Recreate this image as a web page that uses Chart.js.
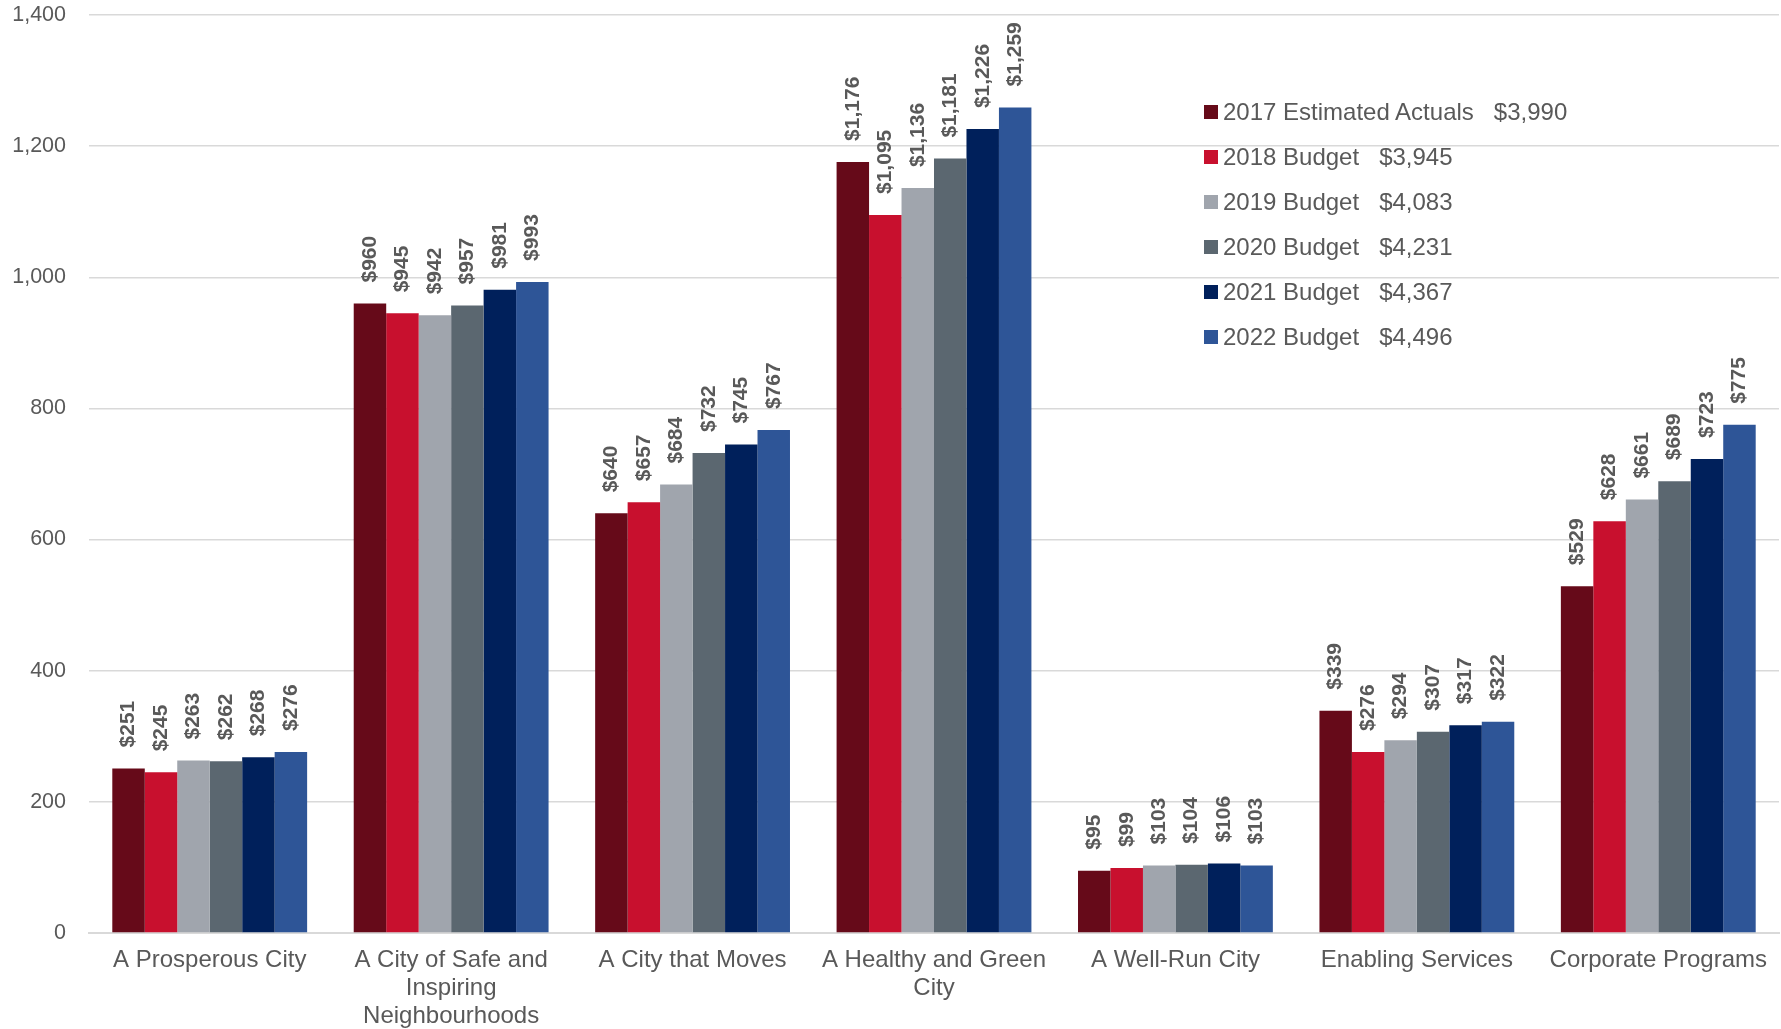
<!DOCTYPE html>
<html>
<head>
<meta charset="utf-8">
<script src="https://cdn.jsdelivr.net/npm/chart.js@4.4.0/dist/chart.umd.min.js"></script>
<style>
  body { margin: 0; background: #fff; }
  #wrap { position: relative; width: 1781px; height: 1029px; }
  #legend { position: absolute; left: 1204px; top: 89px; font: 24px "Liberation Sans", Arial, sans-serif; color: #595959; }
  #legend .row { height: 45px; display: flex; align-items: center; white-space: pre; }
  #legend .sw { width: 14px; height: 14px; margin-right: 5px; }
</style>
</head>
<body>
<div id="wrap">
  <canvas id="chart"></canvas>
  <div id="legend"></div>
</div>
<script>
const categories = [
  'A Prosperous City',
  ['A City of Safe and', 'Inspiring', 'Neighbourhoods'],
  'A City that Moves',
  ['A Healthy and Green', 'City'],
  'A Well-Run City',
  'Enabling Services',
  'Corporate Programs'
];
const seriesNames = ['2017 Estimated Actuals', '2018 Budget', '2019 Budget', '2020 Budget', '2021 Budget', '2022 Budget'];
const seriesTotals = [3990, 3945, 4083, 4231, 4367, 4496];
const seriesColors = ['#660A19', '#C8102E', '#A0A5AD', '#5B6770', '#00205B', '#2E5597'];

const v2017 = [251, 960, 640, 1176, 95, 339, 529];
const v2018 = [245, 945, 657, 1095, 99, 276, 628];
const v2019 = [263, 942, 684, 1136, 103, 294, 661];
const v2020 = [262, 957, 732, 1181, 104, 307, 689];
const v2021 = [268, 981, 745, 1226, 106, 317, 723];
const v2022 = [276, 993, 767, 1259, 103, 322, 775];
const seriesValues = [v2017, v2018, v2019, v2020, v2021, v2022];

const FONT = '"Liberation Sans", Arial, sans-serif';
const fmt = n => n.toLocaleString('en-US');

// legend (HTML, label + total)
const legend = document.getElementById('legend');
seriesNames.forEach((name, i) => {
  const row = document.createElement('div');
  row.className = 'row';
  const sw = document.createElement('div');
  sw.className = 'sw';
  sw.style.background = seriesColors[i];
  const txt = document.createElement('span');
  txt.textContent = name + '   $' + fmt(seriesTotals[i]);
  row.appendChild(sw);
  row.appendChild(txt);
  legend.appendChild(row);
});

const barLabels = {
  id: 'barLabels',
  afterDatasetsDraw(chart){
    const ctx = chart.ctx;
    ctx.save();
    ctx.font = 'bold 21px ' + FONT;
    ctx.fillStyle = '#595959';
    ctx.textAlign = 'left';
    ctx.textBaseline = 'middle';
    chart.data.datasets.forEach((ds, di) => {
      chart.getDatasetMeta(di).data.forEach((el, idx) => {
        ctx.save();
        ctx.translate(el.x, el.y - 21);
        ctx.rotate(-Math.PI / 2);
        ctx.fillText('$' + fmt(ds.data[idx]), 0, 0);
        ctx.restore();
      });
    });
    ctx.restore();
  }
};

new Chart(document.getElementById('chart'), {
  type: 'bar',
  data: {
    labels: categories,
    datasets: seriesNames.map((name, i) => ({
      label: name,
      data: seriesValues[i],
      backgroundColor: seriesColors[i],
      categoryPercentage: 0.807,
      barPercentage: 1.0
    }))
  },
  options: {
    responsive: true,
    maintainAspectRatio: false,
    animation: false,
    layout: { padding: { top: 0, right: 2, left: 0, bottom: 0 } },
    plugins: { legend: { display: false }, tooltip: { enabled: false } },
    scales: {
      x: {
        grid: { display: false, drawTicks: false },
        border: { color: '#d9d9d9', width: 2 },
        ticks: { color: '#595959', font: { family: FONT, size: 24, lineHeight: 1.18 }, padding: 13, maxRotation: 0, autoSkip: false },
        afterFit: s => { s.height = 96; }
      },
      y: {
        min: 0, max: 1400,
        grid: { color: '#d9d9d9', lineWidth: 1.5, drawTicks: false },
        border: { display: false },
        ticks: { stepSize: 200, color: '#595959', font: { family: FONT, size: 21.5 }, padding: 23, callback: v => fmt(v) },
        afterFit: s => { s.width = 89; s.paddingTop = 15; s.paddingBottom = 0; }
      }
    }
  },
  plugins: [barLabels]
});
</script>
</body>
</html>
